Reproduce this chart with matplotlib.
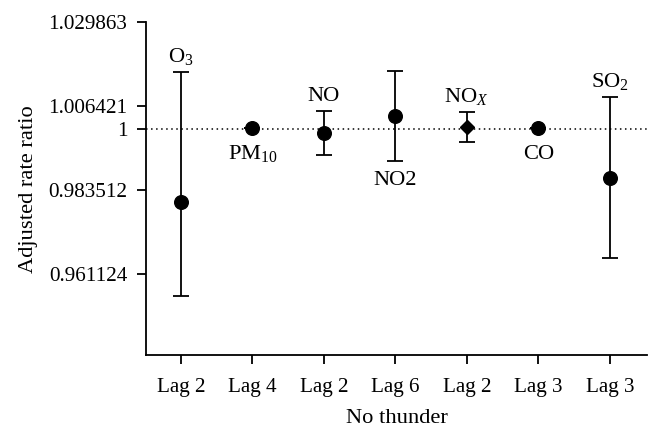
import matplotlib
matplotlib.use("Agg")
import matplotlib.pyplot as plt
import numpy as np

# ---- data ----
pollutants = [r"O$_3$", r"PM$_{10}$", "NO", "NO2", r"NO$_X$", "CO", r"SO$_2$"]
lags = ["Lag 2", "Lag 4", "Lag 2", "Lag 6", "Lag 2", "Lag 3", "Lag 3"]
rate_ratio = [0.98025, 1.0003, 0.99893, 1.00377, 1.00057, 1.0003, 0.98681]
ci_lower = [0.95533, 1.0003, 0.99299, 0.99135, 0.99654, 1.0003, 0.96520]
ci_upper = [1.01598, 1.0003, 1.00506, 1.01626, 1.00479, 1.0003, 1.00894]
markers = ["o", "o", "o", "o", "D", "o", "o"]
label_side = ["above", "below", "above", "below", "above", "below", "above"]
ytick_vals = [0.961124, 0.983512, 1.0, 1.006421, 1.029863]
ytick_labels = ["0.961124", "0.983512", "1", "1.006421", "1.029863"]

plt.rcParams["font.family"] = ["Liberation Serif", "DejaVu Serif"]
plt.rcParams["mathtext.fontset"] = "custom"
plt.rcParams["mathtext.rm"] = "Liberation Serif"
plt.rcParams["mathtext.it"] = "Liberation Serif:italic"
plt.rcParams["font.size"] = 15.2

fig = plt.figure(figsize=(6.61, 4.38), dpi=100)
ax = fig.add_axes([0.2209, 0.1895, 0.7579, 0.7596])

x = np.arange(len(pollutants))
ax.set_yscale("log")
ax.set_xlim(-0.49, 6.52)
ax.set_ylim(0.9399, 1.029863)

ax.axhline(1.0, color="black", linestyle=(0, (1, 2.3)), linewidth=1.1, zorder=1)

ann_size = 16.2
for i in range(len(x)):
    y = rate_ratio[i]
    lo, hi = ci_lower[i], ci_upper[i]
    ms = 9.8 if markers[i] == "o" else 7.5
    ax.errorbar([x[i]], [y], yerr=[[y - lo], [hi - y]], fmt=markers[i],
                color="black", ms=ms, elinewidth=1.3, capsize=5.5,
                capthick=1.3, zorder=3)
    if label_side[i] == "above":
        ax.annotate(pollutants[i], (x[i], hi), xytext=(0, 10),
                    textcoords="offset pixels", ha="center", va="baseline",
                    fontsize=ann_size)
    else:
        if hi - lo > 1e-4:
            ax.annotate(pollutants[i], (x[i], lo), xytext=(0, -24),
                        textcoords="offset pixels", ha="center", va="baseline",
                        fontsize=ann_size)
        else:
            ax.annotate(pollutants[i], (x[i], y), xytext=(0, -31),
                        textcoords="offset pixels", ha="center", va="baseline",
                        fontsize=ann_size)

ax.set_xticks(x)
ax.set_xticklabels(lags)
ax.yaxis.set_minor_locator(matplotlib.ticker.NullLocator())
ax.set_yticks(ytick_vals)
ax.set_yticklabels(ytick_labels)
ax.yaxis.set_minor_formatter(matplotlib.ticker.NullFormatter())

for s in ["top", "right"]:
    ax.spines[s].set_visible(False)
for s in ["left", "bottom"]:
    ax.spines[s].set_linewidth(1.3)
ax.tick_params(axis="both", direction="out", length=6.5, width=1.3)
ax.tick_params(axis="y", pad=7)
ax.tick_params(axis="x", pad=10)

ax.set_xlabel("No thunder", labelpad=9, fontsize=16.2)
ax.set_ylabel("Adjusted rate ratio", labelpad=7, fontsize=16.2)

fig.savefig("out.png", dpi=100)
